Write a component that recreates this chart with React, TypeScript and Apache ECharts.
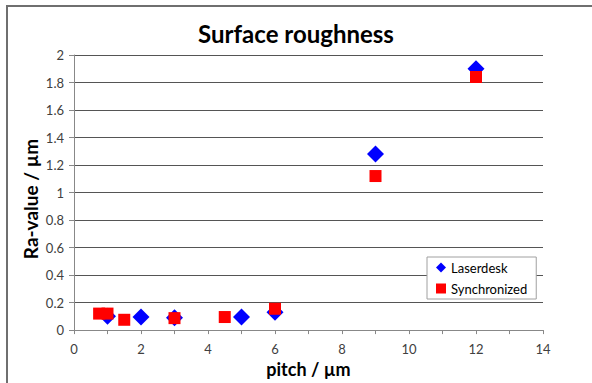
import React, { useEffect, useRef } from "react";
import * as echarts from "echarts";

const laserdeskX = [1, 2, 3, 5, 6, 9, 12];
const laserdeskY = [0.1, 0.095, 0.09, 0.095, 0.13, 1.28, 1.9];
const syncX = [0.75, 1, 1.5, 3, 4.5, 6, 9, 12];
const syncY = [0.12, 0.12, 0.075, 0.087, 0.095, 0.155, 1.12, 1.84];

const FONT = "Lato";

export default function App() {
  const ref = useRef<HTMLDivElement>(null);
  useEffect(() => {
    if (!ref.current) return;
    const chart = echarts.init(ref.current, undefined, { renderer: "svg" });
    chart.setOption({
      animation: false,
      backgroundColor: "#ffffff",
      textStyle: { fontFamily: FONT },
      title: {
        text: "Surface roughness",
        left: "center",
        top: 16,
        textStyle: { fontFamily: FONT, fontSize: 24, fontWeight: "bold", color: "#000" },
      },
      graphic: [
        {
          type: "rect",
          shape: { x: 7, y: 6, width: 900, height: 900 },
          style: { fill: "none", stroke: "#6f6f6f", lineWidth: 2 },
          silent: true,
        },
        {
          type: "text",
          x: 30,
          y: 199,
          rotation: Math.PI / 2,
          style: {
            text: "Ra-value / µm",
            fontFamily: FONT,
            fontSize: 19,
            fontWeight: "bold",
            fill: "#000",
            align: "center",
            verticalAlign: "middle",
          },
          silent: true,
        },
      ],
      grid: { left: 74, right: 49, top: 55, bottom: 52 },
      legend: {
        orient: "vertical",
        left: 427,
        top: 257,
        backgroundColor: "#fff",
        borderColor: "#a0a0a0",
        borderWidth: 1,
        padding: [4, 9, 4, 9],
        itemGap: 8,
        itemWidth: 10,
        itemHeight: 10,
        textStyle: { fontFamily: FONT, fontSize: 13, color: "#000" },
        data: [
          { name: "Laserdesk", icon: "diamond" },
          { name: "Synchronized", icon: "rect" },
        ],
      },
      xAxis: {
        type: "value",
        min: 0,
        max: 14,
        interval: 2,
        name: "pitch / µm",
        nameLocation: "middle",
        nameGap: 29,
        nameTextStyle: { fontFamily: FONT, fontSize: 18, fontWeight: "bold", color: "#000" },
        axisLine: { show: true, lineStyle: { color: "#888", width: 1 } },
        axisTick: { show: true, length: 4, lineStyle: { color: "#888" } },
        minorTick: { show: true, splitNumber: 2, length: 4, lineStyle: { color: "#888" } },
        axisLabel: { margin: 12, fontSize: 13, color: "#404040", fontFamily: FONT },
        splitLine: { show: false },
      },
      yAxis: {
        type: "value",
        min: 0,
        max: 2,
        interval: 0.2,
        axisLine: { show: true, lineStyle: { color: "#888", width: 1 } },
        axisTick: { show: true, length: 5, lineStyle: { color: "#888" } },
        axisLabel: {
          margin: 10,
          fontSize: 13,
          color: "#404040",
          fontFamily: FONT,
          formatter: (v: number) => String(Math.round(v * 10) / 10),
        },
        splitLine: { show: true, lineStyle: { color: "#555", width: 1 } },
      },
      series: [
        {
          name: "Laserdesk",
          type: "scatter",
          symbol: "diamond",
          symbolSize: 17,
          itemStyle: { color: "#0000ff", opacity: 1 },
          data: laserdeskX.map((x, i) => [x, laserdeskY[i]]),
        },
        {
          name: "Synchronized",
          type: "scatter",
          symbol: "rect",
          symbolSize: 12,
          itemStyle: { color: "#ff0000", opacity: 1 },
          data: syncX.map((x, i) => [x, syncY[i]]),
        },
      ],
    });
    return () => chart.dispose();
  }, []);
  return (
    <div
      ref={ref}
      style={{ position: "fixed", left: 0, top: 0, width: 592, height: 383, background: "#fff" }}
    />
  );
}
